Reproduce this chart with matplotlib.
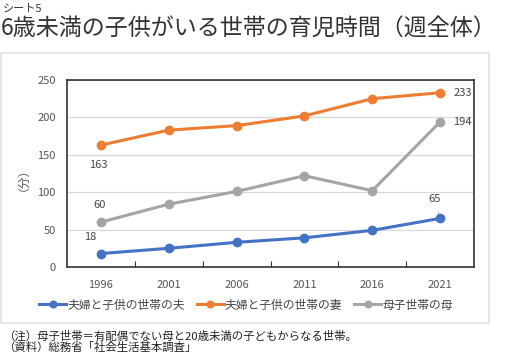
import matplotlib
matplotlib.use('Agg')
import matplotlib.pyplot as plt
from matplotlib.patches import Rectangle

plt.rcParams['font.family'] = ['Noto Sans CJK JP', 'DejaVu Sans']

years = ['1996', '2001', '2006', '2011', '2016', '2021']
husband = [18, 25, 33, 39, 49, 65]
wife = [163, 183, 189, 202, 225, 233]
mother = [60, 84, 101, 122, 102, 194]
series_names = ['夫婦と子供の世帯の夫', '夫婦と子供の世帯の妻', '母子世帯の母']
colors = ['#4472c4', '#ed7d31', '#a5a5a5']

W, H = 507, 354
fig = plt.figure(figsize=(W / 100, H / 100), dpi=100)

# outer chart frame
fig.patches.append(Rectangle((1 / W, 1 - 323 / H), 488 / W, 270 / H,
                             transform=fig.transFigure, fill=False,
                             edgecolor='#e0e0e0', linewidth=1.2))

ax = fig.add_axes([67 / W, 1 - 267 / H, (474 - 67) / W, (267 - 80) / H])
x = list(range(len(years)))
for vals, c, name in zip([husband, wife, mother], colors, series_names):
    ax.plot(x, vals, color=c, linewidth=2.2, marker='o', markersize=6, label=name)

ax.set_xlim(-0.5, 5.5)
ax.set_ylim(0, 250)
ax.set_yticks([0, 50, 100, 150, 200, 250])
ax.set_xticks([i + 0.5 for i in range(5)], minor=False)
ax.set_xticklabels([])
ax.set_xticks(x, minor=True)
ax.set_xticklabels(years, minor=True)
ax.tick_params(axis='x', which='major', length=4, direction='in', color='#333333')
ax.tick_params(axis='x', which='minor', length=0, pad=9, labelsize=8, labelcolor='#555555')
ax.tick_params(axis='y', length=0, pad=8, labelsize=8, labelcolor='#555555')
ax.grid(axis='y', color='#d9d9d9', linewidth=0.9)
ax.set_axisbelow(True)
for s in ax.spines.values():
    s.set_color('#333333')
    s.set_linewidth(1.2)

ax.set_ylabel('（分）', fontsize=8.5, color='#555555', labelpad=10)

lab = dict(fontsize=8, color='#444444')
ax.annotate(str(wife[0]), (0, wife[0]), xytext=(-2, -14), textcoords='offset points', ha='center', va='center', **lab)
ax.annotate(str(mother[0]), (0, mother[0]), xytext=(-1, 12), textcoords='offset points', ha='center', va='center', **lab)
ax.annotate(str(husband[0]), (0, husband[0]), xytext=(-8, 12), textcoords='offset points', ha='center', va='center', **lab)
ax.annotate(str(wife[5]), (5, wife[5]), xytext=(16, 0), textcoords='offset points', ha='center', va='center', **lab)
ax.annotate(str(mother[5]), (5, mother[5]), xytext=(16, 0), textcoords='offset points', ha='center', va='center', **lab)
ax.annotate(str(husband[5]), (5, husband[5]), xytext=(-4, 14), textcoords='offset points', ha='center', va='center',
            arrowprops=dict(arrowstyle='-', color='#a0a0a0', lw=0.6, shrinkA=4, shrinkB=3), **lab)

fig.legend(loc='center', bbox_to_anchor=(246 / W, 1 - 305 / H), ncol=3, frameon=False,
           fontsize=8.5, handlelength=2.3, columnspacing=1.0, handletextpad=0.1,
           labelcolor='#444444', markerscale=0.8)

fig.text(3 / W, 1 - 9 / H, 'シート5', fontsize=8, color='#333333', va='center')
fig.text(1 / W, 1 - 29 / H, '6歳未満の子供がいる世帯の育児時間（週全体）', fontsize=16.6,
         color='#333333', va='center')
fig.text(3 / W, 1 - 336 / H, '（注）母子世帯＝有配偶でない母と20歳未満の子どもからなる世帯。', fontsize=8.2,
         color='#222222', va='center')
fig.text(3 / W, 1 - 347 / H, '（資料）総務省「社会生活基本調査」', fontsize=8.2,
         color='#222222', va='center')

fig.savefig('out.png', dpi=100)
